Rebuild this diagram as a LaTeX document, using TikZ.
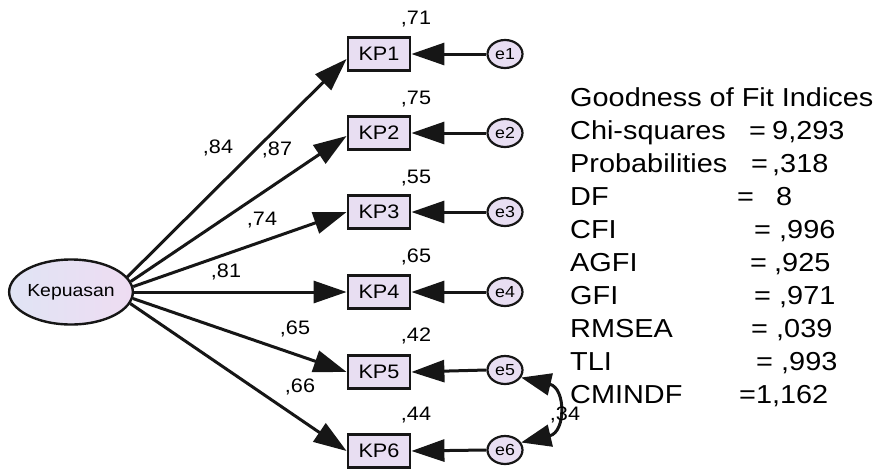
\documentclass[tikz,border=0pt]{standalone}
\usepackage{fontspec}
\setmainfont{Liberation Sans}[FakeStretch=1.11]
\usetikzlibrary{arrows.meta,shapes.geometric}

\definecolor{boxfill}{RGB}{232,222,242}
\definecolor{latleft}{RGB}{224,228,244}
\definecolor{latright}{RGB}{238,220,242}
\definecolor{edgecol}{RGB}{22,22,22}

\tikzset{
  obs/.style={rectangle, draw=edgecol, line width=2.8pt, fill=boxfill,
    minimum width=62pt, minimum height=33pt, inner sep=0pt,
    font=\fontsize{19.5}{19.5}\selectfont},
  err/.style={ellipse, draw=edgecol, line width=2.2pt, fill=boxfill,
    minimum width=35pt, minimum height=28pt, inner sep=0pt,
    font=\fontsize{16}{16}\selectfont},
  lat/.style={ellipse, draw=edgecol, line width=2.4pt,
    left color=latleft, right color=latright,
    minimum width=123pt, minimum height=65pt, inner sep=0pt,
    font=\fontsize{17.5}{17.5}\selectfont},
  tip/.tip={Triangle[length=33pt,width=22pt]},
  path/.style={line width=3pt, draw=edgecol, -tip},
  cov/.style={line width=3pt, draw=edgecol,
    {Triangle[length=30pt,width=22pt]}-{Triangle[length=30pt,width=22pt]}},
  coef/.style={font=\fontsize{19.5}{19.5}\selectfont, inner sep=0pt},
  fitrow/.style={font=\fontsize{26}{26}\selectfont, inner sep=0pt, anchor=base west},
}

\begin{document}
\begin{tikzpicture}[x=1pt, y=-1pt]
\useasboundingbox (0,0) rectangle (877,469);

% latent variable
\node[lat] (kep) at (71,292) {Kepuasan};

% indicators
\node[obs] (kp1) at (379,54)  {KP1};
\node[obs] (kp2) at (379,133) {KP2};
\node[obs] (kp3) at (379,212) {KP3};
\node[obs] (kp4) at (379,292) {KP4};
\node[obs] (kp5) at (379,372) {KP5};
\node[obs] (kp6) at (379,451) {KP6};

% error terms
\node[err] (e1) at (505,54)  {e1};
\node[err] (e2) at (505,133) {e2};
\node[err] (e3) at (505,212) {e3};
\node[err] (e4) at (505,292) {e4};
\node[err] (e5) at (505,370) {e5};
\node[err] (e6) at (505,450) {e6};

% loadings
\draw[path] (kep.15)  -- ([yshift=-5pt]kp1.west);
\draw[path] (kep.10)  -- ([yshift=-3pt]kp2.west);
\draw[path] (kep.5)   -- (kp3.west);
\draw[path] (kep.0)   -- (kp4.west);
\draw[path] (kep.-6)  -- (kp5.west);
\draw[path] (kep.-11) -- (kp6.west);

% error paths
\foreach \i in {1,...,6}
  \draw[path] (e\i.west) -- (kp\i.east);

% error covariance
\draw[cov] (e5.-25) .. controls (566,388) and (566,432) .. (e6.25);

% standardized loadings
\node[coef] (l1) at (218,148) {,84};
\node[coef] (l2) at (277,150) {,87};
\node[coef] (l3) at (262,220) {,74};
\node[coef] (l4) at (226,272) {,81};
\node[coef] (l5) at (295,329) {,65};
\node[coef] (l6) at (300,387) {,66};

% squared multiple correlations
\node[coef] (r1) at (416,19)  {,71};
\node[coef] (r2) at (416,99)  {,75};
\node[coef] (r3) at (416,178) {,55};
\node[coef] (r4) at (416,257) {,65};
\node[coef] (r5) at (416,336) {,42};
\node[coef] (r6) at (416,415) {,44};

% covariance value
\node[coef] (c56) at (565,415) {,34};

% fit indices
\node[fitrow] (g0) at (570,106.5) {Goodness of Fit Indices};
\node[fitrow] (g1) at (570,139.4) {Chi-squares};
\node[fitrow] (g2) at (570,172.4) {Probabilities};
\node[fitrow] (g3) at (570,205.3) {DF};
\node[fitrow] (g4) at (570,238.3) {CFI};
\node[fitrow] (g5) at (570,271.2) {AGFI};
\node[fitrow] (g6) at (570,304.1) {GFI};
\node[fitrow] (g7) at (570,337.1) {RMSEA};
\node[fitrow] (g8) at (570,370.0) {TLI};
\node[fitrow] (g9) at (570,403.0) {CMINDF};

\node[fitrow] (q1) at (749,139.4) {=};
\node[fitrow] (q2) at (751,172.4) {=};
\node[fitrow] (q3) at (737,205.3) {=};
\node[fitrow] (q4) at (754,238.3) {=};
\node[fitrow] (q5) at (750,271.2) {=};
\node[fitrow] (q6) at (754,304.1) {=};
\node[fitrow] (q7) at (751,337.1) {=};
\node[fitrow] (q8) at (756,370.0) {=};

\node[fitrow] (v1) at (772,139.4) {9,293};
\node[fitrow] (v2) at (772,172.4) {,318};
\node[fitrow] (v3) at (776,205.3) {8};
\node[fitrow] (v4) at (779,238.3) {,996};
\node[fitrow] (v5) at (774,271.2) {,925};
\node[fitrow] (v6) at (779,304.1) {,971};
\node[fitrow] (v7) at (776,337.1) {,039};
\node[fitrow] (v8) at (781,370.0) {,993};
\node[fitrow] (v9) at (739,403.0) {=1,162};
\end{tikzpicture}
\end{document}
